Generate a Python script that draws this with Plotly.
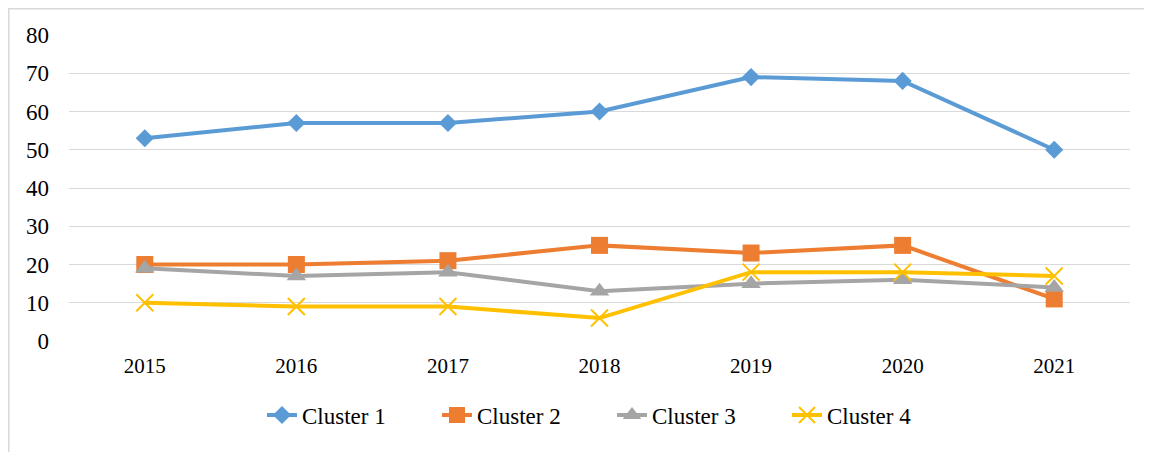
import plotly.graph_objects as go

years = ["2015", "2016", "2017", "2018", "2019", "2020", "2021"]
cluster1 = [53, 57, 57, 60, 69, 68, 50]
cluster2 = [20, 20, 21, 25, 23, 25, 11]
cluster3 = [19, 17, 18, 13, 15, 16, 14]
cluster4 = [10, 9, 9, 6, 18, 18, 17]
y_ticks = [0, 10, 20, 30, 40, 50, 60, 70, 80]

fig = go.Figure()
fig.add_trace(go.Scatter(x=years, y=cluster1, name="Cluster 1", mode="lines+markers",
                         line=dict(color="#5B9BD5", width=4),
                         marker=dict(symbol="diamond", size=14, color="#5B9BD5")))
fig.add_trace(go.Scatter(x=years, y=cluster2, name="Cluster 2", mode="lines+markers",
                         line=dict(color="#ED7D31", width=4),
                         marker=dict(symbol="square", size=17, color="#ED7D31")))
fig.add_trace(go.Scatter(x=years, y=cluster3, name="Cluster 3", mode="lines+markers",
                         line=dict(color="#A5A5A5", width=4),
                         marker=dict(symbol="triangle-up", size=17, color="#A5A5A5")))
fig.add_trace(go.Scatter(x=years, y=cluster4, name="Cluster 4", mode="lines+markers",
                         line=dict(color="#FFC000", width=4),
                         marker=dict(symbol="x-thin", size=17, color="#FFC000",
                                     line=dict(color="#FFC000", width=2))))

fig.update_layout(
    width=1144, height=444,
    margin=dict(l=61, r=22, t=27, b=111),
    paper_bgcolor="white", plot_bgcolor="white",
    font=dict(family="Liberation Serif, Times New Roman, serif", color="#000000", size=23),
    showlegend=True,
    legend=dict(orientation="h", x=(262 - 69) / 1061, xanchor="left", y=-0.242, yanchor="middle",
                font=dict(size=23), entrywidth=130, entrywidthmode="pixels", tracegroupgap=0),
    xaxis=dict(type="category", range=[-0.5, 6.5], showgrid=False, showline=False,
               zeroline=False, ticks="", tickfont=dict(size=21), ticklabelstandoff=10),
    yaxis=dict(range=[0, 80], tickvals=y_ticks, showgrid=True, gridcolor="#D9D9D9",
               gridwidth=1.3, zeroline=False, showline=False, ticks="",
               tickfont=dict(size=23), ticklabelstandoff=19),
    shapes=[dict(type="rect", xref="paper", yref="paper",
                 x0=(8.8 - 69) / 1061, x1=(1160 - 69) / 1061,
                 y0=(341 - 470) / 306, y1=(341 - 8.8) / 306,
                 line=dict(color="#D9D9D9", width=1.5), layer="below")],
)

fig.write_html("out.html")
